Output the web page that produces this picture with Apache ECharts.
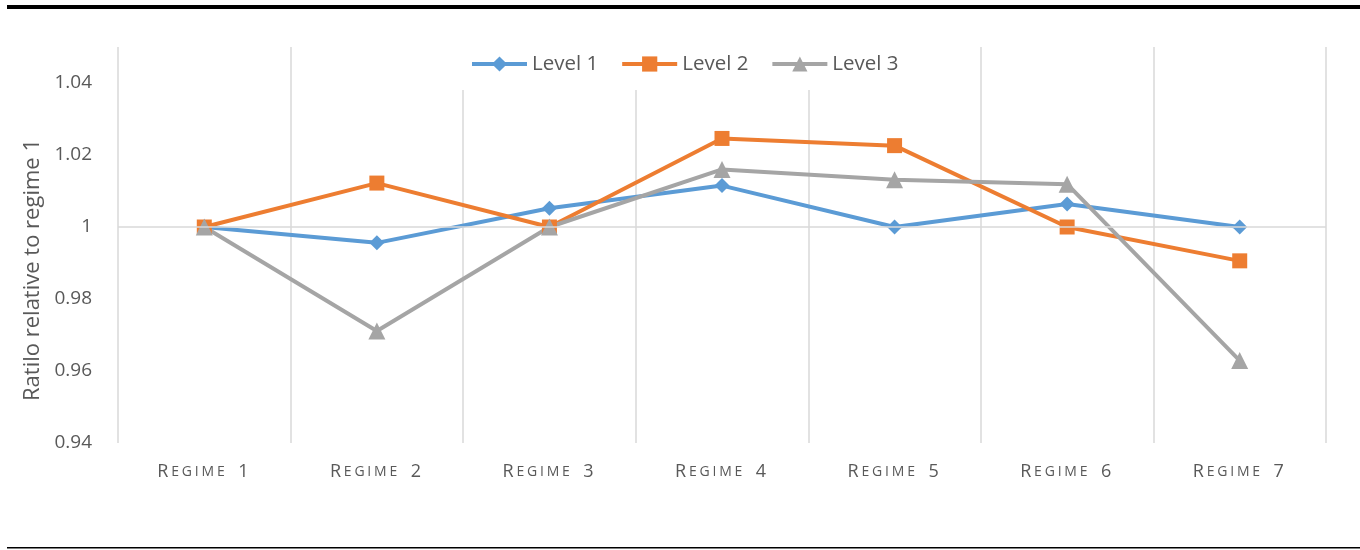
<!DOCTYPE html>
<html>
<head>
<meta charset="utf-8">
<script src="https://cdn.jsdelivr.net/npm/echarts@6/dist/echarts.min.js"></script>
<style>
  html, body { margin: 0; padding: 0; background: #fff; }
  #chart { width: 1360px; height: 550px; }
</style>
</head>
<body>
<div id="chart"></div>
<script>
// Regimes along the horizontal axis
const categories = ['Regime 1', 'Regime 2', 'Regime 3', 'Regime 4', 'Regime 5', 'Regime 6', 'Regime 7'];

// Ratios relative to regime 1, per level
const level1 = [1.0000, 0.9956, 1.0052, 1.0115, 1.0000, 1.0064, 1.0000];
const level2 = [1.0000, 1.0122, 1.0000, 1.0246, 1.0226, 1.0000, 0.9906];
const level3 = [1.0000, 0.9711, 1.0000, 1.0160, 1.0131, 1.0119, 0.9629];

const seriesNames = ['Level 1', 'Level 2', 'Level 3'];
const yTickLabels = ['0.94', '0.96', '0.98', '1', '1.02', '1.04'];

const FONT = '"Open Sans", "Noto Sans", sans-serif';
const TEXT = '#595959';
const GRID = '#d9d9d9';

// Small-caps rendering of the category names: capitals and digits large, other letters small
function smallCaps(name) {
  let out = '';
  for (let i = 0; i < name.length; i++) {
    const ch = name[i];
    if (ch === ' ') { out += '{sp| }'; continue; }
    const big = (ch === ch.toUpperCase());
    out += '{' + (big ? 'b' : 's') + '|' + ch.toUpperCase() + '}';
  }
  return out;
}

const chart = echarts.init(document.getElementById('chart'));

function lineSeries(name, data, color, symbol, size) {
  return {
    name: name,
    type: 'line',
    data: data,
    z: 3,
    symbol: symbol,
    symbolSize: size,
    lineStyle: { color: color, width: 4 },
    itemStyle: { color: color },
    emphasis: { disabled: true }
  };
}

chart.setOption({
  animation: false,
  backgroundColor: '#fff',
  textStyle: { fontFamily: FONT },
  graphic: [
    { type: 'rect', shape: { x: 7, y: 5, width: 1353, height: 4 }, style: { fill: '#000' }, silent: true },
    { type: 'rect', shape: { x: 7, y: 547, width: 1353, height: 1.5 }, style: { fill: '#000' }, silent: true }
  ],
  legend: {
    data: seriesNames,
    left: 456,
    top: 40,
    padding: [13.5, 14, 15.5, 14],
    backgroundColor: '#fff',
    itemWidth: 55,
    itemHeight: 19,
    itemGap: 22,
    z: 10,
    lineStyle: { width: 4 },
    textStyle: { fontFamily: FONT, fontSize: 20.5, color: TEXT }
  },
  grid: { left: 118, right: 34, top: 47, bottom: 107, containLabel: false },
  xAxis: {
    type: 'category',
    data: categories,
    boundaryGap: true,
    axisLine: { show: false },
    axisTick: { show: false },
    splitLine: { show: true, interval: 0, lineStyle: { color: GRID, width: 1.5 } },
    axisLabel: {
      interval: 0,
      margin: 20,
      color: TEXT,
      formatter: function (v) { return smallCaps(v); },
      rich: {
        b: { fontFamily: FONT, fontSize: 18, color: TEXT, padding: [0, 2.8, 0, 0] },
        s: { fontFamily: FONT, fontSize: 14, color: TEXT, padding: [0, 2.8, 0, 0] },
        sp: { fontFamily: FONT, fontSize: 18, color: TEXT, padding: [0, 6, 0, 0] }
      }
    }
  },
  yAxis: {
    type: 'value',
    min: 0.94,
    max: 1.05,
    interval: 0.02,
    name: 'Ratilo relative to regime 1',
    nameLocation: 'middle',
    nameGap: 74,
    nameTextStyle: { fontFamily: FONT, fontSize: 22, color: TEXT, padding: [0, 50, 0, 0] },
    axisLine: { show: false },
    axisTick: { show: false },
    splitLine: { show: false },
    axisLabel: {
      margin: 26,
      fontFamily: FONT,
      fontSize: 19,
      color: TEXT,
      formatter: function (v) {
        const i = Math.round((v - 0.94) / 0.02);
        if (Math.abs(v - (0.94 + i * 0.02)) > 1e-6) return '';
        return yTickLabels[i] !== undefined ? yTickLabels[i] : '';
      }
    }
  },
  series: [
    {
      // horizontal reference line at a ratio of 1
      type: 'line',
      data: [],
      z: 1,
      silent: true,
      markLine: {
        silent: true,
        symbol: ['none', 'none'],
        label: { show: false },
        lineStyle: { color: GRID, width: 1.5, type: 'solid' },
        data: [{ yAxis: 1 }]
      }
    },
    lineSeries(seriesNames[0], level1, '#5B9BD5', 'diamond', 15),
    lineSeries(seriesNames[1], level2, '#ED7D31', 'rect', 15),
    lineSeries(seriesNames[2], level3, '#A5A5A5', 'triangle', 17)
  ]
});
</script>
</body>
</html>
